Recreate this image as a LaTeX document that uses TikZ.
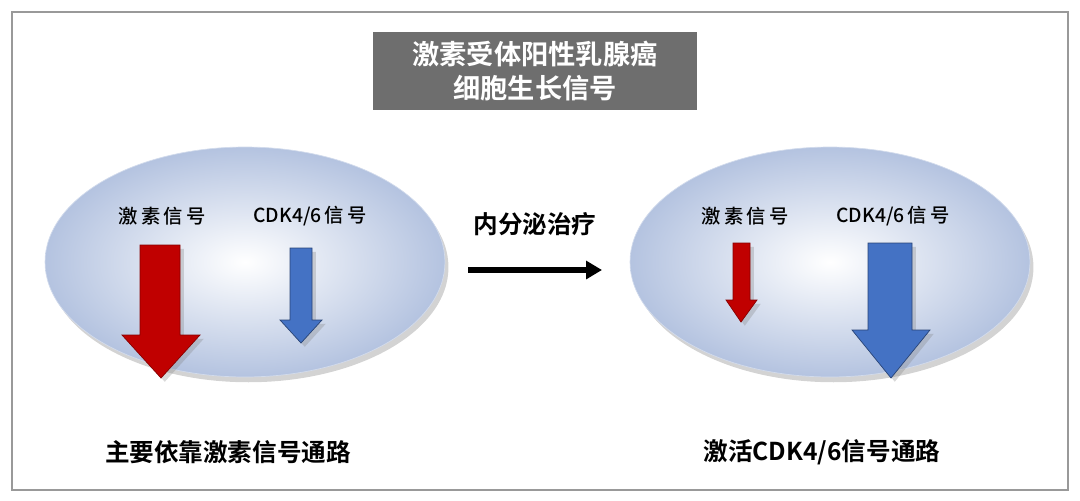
\documentclass[tikz,border=0pt]{standalone}
\usepackage{fontspec}
\newfontfamily\cjk{Noto Sans CJK SC Medium}
\newfontfamily\cjkb{Noto Sans CJK SC Bold}
\usetikzlibrary{shapes.geometric,arrows.meta,shadows}
\definecolor{ered}{HTML}{C00000}
\definecolor{eblue}{HTML}{4472C4}
\definecolor{elb}{HTML}{B4C3E0}
\tikzset{
  cell/.style={ellipse,minimum width=8cm,minimum height=4.6cm,inner color=white,outer color=elb,draw=elb!60,drop shadow={opacity=0.35,shadow xshift=2pt,shadow yshift=-3pt}},
  lbl/.style={font=\cjk\fontsize{11}{13}\selectfont},
  big/.style={font=\cjkb\fontsize{14}{17}\selectfont},
  redarr/.style={fill=ered,draw=ered!70!black,drop shadow={opacity=0.3}},
  bluearr/.style={fill=eblue,draw=eblue!60!black,drop shadow={opacity=0.3}}
}
\begin{document}
\begin{tikzpicture}[x=0.02cm,y=-0.02cm]
\useasboundingbox (0,0) rectangle (1080,501);
\draw[gray!80,line width=0.8pt] (12,12) rectangle (1068,490);
\node[fill=black!57,minimum width=6.5cm,minimum height=1.56cm,text=white,font=\cjkb\fontsize{15.5}{19}\selectfont,align=center] (title) at (535,71) {激素受体阳性乳腺癌\\细胞生长信号};
\node[cell] (L) at (245,262) {};
\node[cell] (R) at (830,262) {};
\node[lbl] (l1) at (162,216) {激\,素\,信\,号};
\node[lbl] (l2) at (310,216) {CDK4/6\,信\,号};
\node[lbl] (r1) at (745,216) {激\,素\,信\,号};
\node[lbl] (r2) at (893,216) {CDK4/6\,信\,号};
\draw[redarr] (140,245)--(180,245)--(180,335)--(200,335)--(161,378)--(122,335)--(140,335)--cycle;
\draw[bluearr] (290,248)--(312,248)--(312,320)--(322,320)--(301,343)--(280,320)--(290,320)--cycle;
\draw[redarr] (733,243)--(750,243)--(750,300)--(757,300)--(741,322)--(726,300)--(733,300)--cycle;
\draw[bluearr] (868,243)--(912,243)--(912,330)--(930,330)--(891,378)--(852,330)--(868,330)--cycle;
\node[big] (mid) at (535,224) {内分泌治疗};
\coordinate (a0) at (468,270);
\coordinate (a1) at (602,270);
\draw[line width=3pt,-{Triangle[length=9pt,width=10pt]}] (a0)--(a1);
\node[big] (bl) at (228,452) {主要依靠激素信号通路};
\node[big] (br) at (822,452) {激活CDK4/6信号通路};
\end{tikzpicture}
\end{document}
